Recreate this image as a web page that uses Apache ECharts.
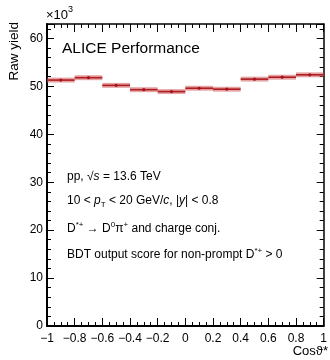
<!DOCTYPE html>
<html><head><meta charset="utf-8">
<script src="https://cdn.jsdelivr.net/npm/echarts@6/dist/echarts.min.js"></script>
<style>html,body{margin:0;padding:0;background:#fff}#c{width:330px;height:360px}</style>
</head><body><div id="c"></div>
<script>
var binLow  = [-1.0, -0.8, -0.6, -0.4, -0.2, 0.0, 0.2, 0.4, 0.6, 0.8];
var binHigh = [-0.8, -0.6, -0.4, -0.2, 0.0, 0.2, 0.4, 0.6, 0.8, 1.0];
var rawYield = [51.3, 51.8, 50.2, 49.3, 48.9, 49.6, 49.4, 51.5, 51.9, 52.4];
var yieldErr = [0.35, 0.35, 0.35, 0.35, 0.35, 0.35, 0.35, 0.35, 0.35, 0.35];
var xTicks = [-1, -0.8, -0.6, -0.4, -0.2, 0, 0.2, 0.4, 0.6, 0.8, 1];
var yTicks = [0, 10, 20, 30, 40, 50, 60];

var chart = echarts.init(document.getElementById('c'), null, {renderer: 'canvas'});
var FONT = '"Liberation Sans", Arial, Helvetica, sans-serif';
var data = binLow.map(function (l, i) { return [l, binHigh[i], rawYield[i], yieldErr[i]]; });

function fmtX(v) {
  var r = Math.round(v * 10) / 10;
  if (r === 0) return '0';
  var s = String(Math.abs(r));
  return (r < 0 ? '\u2212' : '') + s;
}

var axisLineStyle = {color: '#000', width: 1.5};
var FS = 12;
chart.setOption({
  animation: false,
  grid: {left: 47, right: 3, top: 24, bottom: 34, containLabel: false},
  xAxis: [{
    type: 'value', min: -1, max: 1, interval: 0.2, position: 'bottom',
    axisLine: {show: true, onZero: false, lineStyle: {color: '#000', width: 2}},
    axisTick: {show: true, inside: true, length: 8, lineStyle: {color: '#000', width: 1}},
    minorTick: {show: true, splitNumber: 4, length: 4, lineStyle: {color: '#000', width: 1}},
    splitLine: {show: false},
    axisLabel: {show: true, margin: 7, fontFamily: FONT, fontSize: 12, color: '#000',
      formatter: function (v) { return xTicks.some(function (t) { return Math.abs(t - v) < 1e-6; }) ? fmtX(v) : ''; }}
  }, {
    type: 'value', min: -1, max: 1, interval: 0.2, position: 'top',
    axisLine: {show: true, onZero: false, lineStyle: axisLineStyle},
    axisTick: {show: true, inside: true, length: 8, lineStyle: {color: '#000', width: 1}},
    minorTick: {show: true, splitNumber: 4, length: 4, lineStyle: {color: '#000', width: 1}},
    splitLine: {show: false}, axisLabel: {show: false}
  }],
  yAxis: [{
    type: 'value', min: 0, max: 63, interval: 10, position: 'left',
    axisLine: {show: true, onZero: false, lineStyle: {color: '#000', width: 2}},
    axisTick: {show: true, inside: true, length: 7, lineStyle: {color: '#000', width: 1}},
    minorTick: {show: true, splitNumber: 5, length: 4, lineStyle: {color: '#000', width: 1}},
    splitLine: {show: false},
    axisLabel: {show: true, margin: 4, fontFamily: FONT, fontSize: 12, color: '#000',
      formatter: function (v) { return yTicks.indexOf(v) >= 0 ? String(v) : ''; }}
  }, {
    type: 'value', min: 0, max: 63, interval: 10, position: 'right',
    axisLine: {show: true, onZero: false, lineStyle: axisLineStyle},
    axisTick: {show: true, inside: true, length: 7, lineStyle: {color: '#000', width: 1}},
    minorTick: {show: true, splitNumber: 5, length: 4, lineStyle: {color: '#000', width: 1}},
    splitLine: {show: false}, axisLabel: {show: false}
  }],
  series: [{
    type: 'custom', xAxisIndex: 0, yAxisIndex: 0, clip: true,
    data: data,
    renderItem: function (params, api) {
      var x0 = api.value(0), x1 = api.value(1), y = api.value(2), e = api.value(3);
      var pL = api.coord([x0, y]), pR = api.coord([x1, y]);
      var pT = api.coord([x0, y + e]), pB = api.coord([x0, y - e]);
      var xm = (pL[0] + pR[0]) / 2;
      return {type: 'group', children: [
        {type: 'rect', shape: {x: pL[0], y: pT[1] - 0.8, width: pR[0] - pL[0], height: pB[1] - pT[1] + 1.6},
          style: {fill: 'rgba(205,90,90,0.55)'}},
        {type: 'line', shape: {x1: pL[0], y1: pL[1], x2: pR[0], y2: pR[1]},
          style: {stroke: '#b01c22', lineWidth: 1.6}},
        {type: 'circle', shape: {cx: xm, cy: pL[1], r: 1.6}, style: {fill: '#a8121a'}}
      ]};
    }
  }],
  graphic: [
    {type: 'text', left: 46, top: 5, style: {text: '{a|\u00d710}{s|3}', rich: {
      a: {fontFamily: FONT, fontSize: 13, fill: '#000', verticalAlign: 'bottom'},
      s: {fontFamily: FONT, fontSize: 9, fill: '#000', verticalAlign: 'top', padding: [0, 0, 8, 0]}}}},
    {type: 'text', left: 7, top: 22, rotation: Math.PI / 2, style: {text: 'Raw yield', fontFamily: FONT, fontSize: 13.5, fill: '#000'}},
    {type: 'text', right: 2, top: 345, style: {text: 'Cos\u03d1*', fontFamily: FONT, fontSize: 13, fill: '#000'}},
    {type: 'text', left: 62, top: 41, style: {text: 'ALICE Performance', fontFamily: FONT, fontSize: 15.5, fill: '#000'}},
    {type: 'text', left: 67, top: 171, style: {text: '{t|pp, }{r|\u221a}{i|s}{t| = 13.6 TeV}', rich: {
      t: {fontFamily: FONT, fontSize: FS, fill: '#000'},
      r: {fontFamily: FONT, fontSize: FS, fill: '#000'},
      i: {fontFamily: FONT, fontSize: FS, fontStyle: 'italic', fill: '#000'}}}},
    {type: 'text', left: 67, top: 195, style: {text: '{t|10 < }{i|p}{sb|T}{t| < 20 GeV/}{i|c}{t|, |}{i|y}{t|| < 0.8}', rich: {
      t: {fontFamily: FONT, fontSize: FS, fill: '#000'},
      i: {fontFamily: FONT, fontSize: FS, fontStyle: 'italic', fill: '#000'},
      sb: {fontFamily: FONT, fontSize: 8, fill: '#000', padding: [8, 0, 0, 0]}}}},
    {type: 'text', left: 67, top: 221, style: {text: '{t|D}{sp|*+}{t| \u2192 D}{sp|0}{t|\u03c0}{sp|+}{t| and charge conj.}', rich: {
      t: {fontFamily: FONT, fontSize: FS, fill: '#000'},
      sp: {fontFamily: FONT, fontSize: 8, fill: '#000', padding: [0, 0, 8, 0]}}}},
    {type: 'text', left: 67, top: 247, style: {text: '{t|BDT output score for non-prompt D}{sp|*+}{t| > 0}', rich: {
      t: {fontFamily: FONT, fontSize: FS, fill: '#000'},
      sp: {fontFamily: FONT, fontSize: 8, fill: '#000', padding: [0, 0, 8, 0]}}}}
  ]
});
</script></body></html>
